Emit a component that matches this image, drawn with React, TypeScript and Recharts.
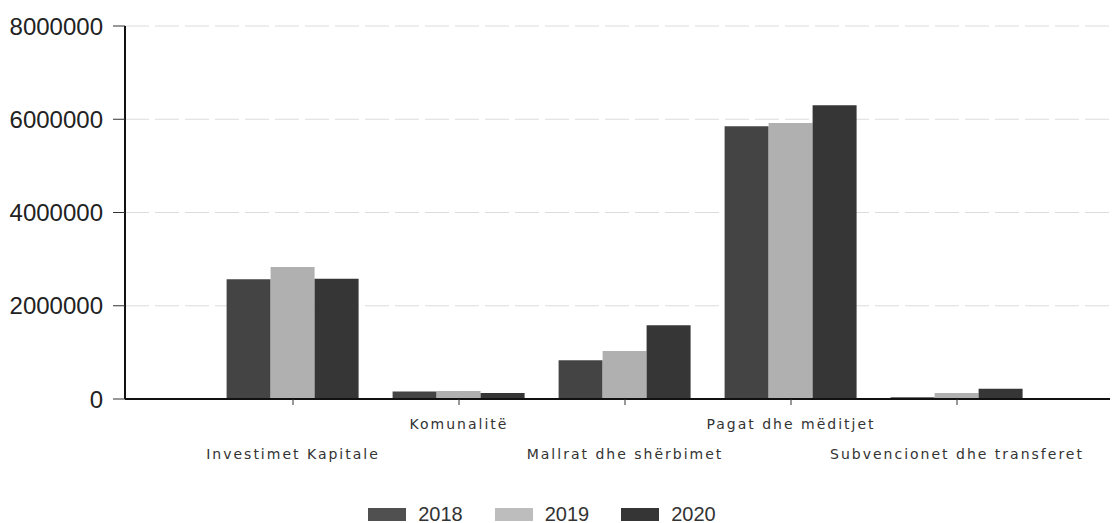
import React from 'react'
import { BarChart, Bar, XAxis, YAxis, CartesianGrid, Legend } from 'recharts'

// categories on the x axis
const categories = [
  'Investimet Kapitale',
  'Komunalitë',
  'Mallrat dhe shërbimet',
  'Pagat dhe mëditjet',
  'Subvencionet dhe transferet',
]

// values per year
const v2018 = [2570000, 160000, 830000, 5850000, 40000]
const v2019 = [2830000, 170000, 1030000, 5920000, 130000]
const v2020 = [2580000, 130000, 1580000, 6300000, 220000]

const yTicks = [0, 2000000, 4000000, 6000000, 8000000]

const series = [
  { key: 'y2018', label: '2018', color: '#444444', legend: '#505050' },
  { key: 'y2019', label: '2019', color: '#b0b0b0', legend: '#bdbdbd' },
  { key: 'y2020', label: '2020', color: '#363636', legend: '#353535' },
]

const data = categories.map((name, i) => ({
  name,
  y2018: v2018[i],
  y2019: v2019[i],
  y2020: v2020[i],
}))

// labels alternate between two rows like the original
function CategoryTick(props: any) {
  const { x, y, payload, index } = props
  const dy = index % 2 === 1 ? 22 : 52
  return (
    <text
      x={x}
      y={y}
      dy={dy}
      textAnchor="middle"
      fill="#333"
      fontSize={14}
      letterSpacing={2}
      fontFamily="'DejaVu Sans', sans-serif"
    >
      {payload.value}
    </text>
  )
}

function YearLegend() {
  return (
    <div
      style={{
        display: 'flex',
        justifyContent: 'center',
        alignItems: 'center',
        height: 28,
        paddingTop: 10,
        boxSizing: 'border-box',
        marginLeft: 6,
      }}
    >
      {series.map(s => (
        <div key={s.key} style={{ display: 'flex', alignItems: 'center', marginRight: 32 }}>
          <div style={{ width: 38, height: 13, background: s.legend, marginRight: 12 }} />
          <span style={{ fontFamily: "'Liberation Sans', Arial, sans-serif", fontSize: 20, color: '#333' }}>{s.label}</span>
        </div>
      ))}
    </div>
  )
}

export default function App() {
  return (
    <div style={{ position: 'absolute', left: 0, top: 0, background: '#fff' }}>
      <BarChart
        width={1114}
        height={523}
        data={data}
        margin={{ top: 26, right: 4, left: 0, bottom: 0 }}
        barGap={0}
        barCategoryGap="10%"
      >
        <CartesianGrid vertical={false} stroke="#dcdcdc" strokeDasharray="24 6" />
        <XAxis
          dataKey="name"
          height={96}
          padding={{ left: 85, right: 70 }}
          axisLine={{ stroke: '#111', strokeWidth: 2 }}
          tickLine={{ stroke: '#333' }}
          tickSize={6}
          interval={0}
          tick={<CategoryTick />}
        />
        <YAxis
          width={125}
          domain={[0, 8000000]}
          ticks={yTicks}
          interval={0}
          axisLine={{ stroke: '#111', strokeWidth: 2 }}
          tickLine={{ stroke: '#333' }}
          tickSize={12}
          tickMargin={10}
          tick={{ fill: '#222', fontSize: 24, fontFamily: "'Liberation Sans', Arial, sans-serif" }}
        />
        <Legend verticalAlign="bottom" content={<YearLegend />} />
        {series.map(s => (
          <Bar key={s.key} dataKey={s.key} name={s.label} fill={s.color} isAnimationActive={false} />
        ))}
      </BarChart>
    </div>
  )
}
